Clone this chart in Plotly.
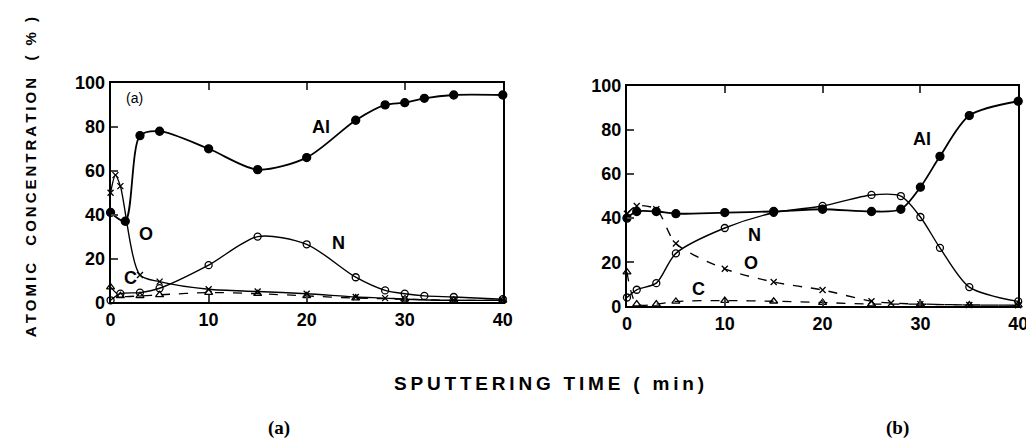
import plotly.graph_objects as go

# ---- Panel (a) data ----
a_al_t = [0, 1.5, 3, 5, 10, 15, 20, 25, 28, 30, 32, 35, 40]
a_al_v = [41, 37, 76, 78, 70, 60.5, 66, 83, 90, 91, 93, 94.5, 94.5]
a_o_t = [0, 0.5, 1, 3, 5, 10, 15, 20, 25, 28, 30, 35, 40]
a_o_v = [50, 58, 53, 12.5, 9.5, 6, 5, 4, 2.5, 2, 1.5, 1, 1]
a_n_t = [0, 1, 3, 5, 10, 15, 20, 25, 28, 30, 32, 35, 40]
a_n_v = [1, 4, 4.5, 6.5, 17, 30, 26.5, 11.5, 5.5, 4, 3, 2.5, 1.5]
a_c_t = [0, 1, 3, 5, 10, 15, 20, 25, 30, 35, 40]
a_c_v = [7, 3, 3, 3.5, 4.5, 4, 3, 2, 1.5, 1, 1]

# ---- Panel (b) data ----
b_al_t = [0, 1, 3, 5, 10, 15, 20, 25, 28, 30, 32, 35, 40]
b_al_v = [40, 43, 43, 42, 42.5, 43, 44, 43, 44, 54, 68, 86.5, 93]
b_o_t = [0, 1, 3, 5, 10, 15, 20, 25, 27, 30, 35, 40]
b_o_v = [42, 45.5, 44, 28.5, 17, 11, 7.4, 2.3, 1.5, 1, 0.6, 0.5]
b_n_t = [0, 1, 3, 5, 10, 15, 20, 25, 28, 30, 32, 35, 40]
b_n_v = [4, 7.5, 10.5, 24, 35.5, 42.4, 45.5, 50.5, 50, 40.5, 26.5, 8.7, 2.2]
b_c_t = [0, 1, 3, 5, 10, 15, 20, 25, 30, 35, 40]
b_c_v = [15.5, 1, 1, 2.2, 2.6, 2.3, 1.7, 1, 1, 0.6, 0.5]

x_ticks = [0, 10, 20, 30, 40]
y_ticks = [0, 20, 40, 60, 80, 100]

fig = go.Figure()

def add_series(t, v, xa, ya, symbol, size, dash, width=1.6):
    fig.add_trace(go.Scatter(
        x=t, y=v, xaxis=xa, yaxis=ya, mode="lines+markers",
        line=dict(color="black", width=width, shape="spline", smoothing=0.8, dash=dash),
        marker=dict(symbol=symbol, size=size, color="black",
                    line=dict(color="black", width=1.3)),
        cliponaxis=False, showlegend=False))

for xa, ya, d in [("x", "y", dict(al=(a_al_t, a_al_v), o=(a_o_t, a_o_v), n=(a_n_t, a_n_v), c=(a_c_t, a_c_v), odash="solid")),
                  ("x2", "y2", dict(al=(b_al_t, b_al_v), o=(b_o_t, b_o_v), n=(b_n_t, b_n_v), c=(b_c_t, b_c_v), odash="dash"))]:
    add_series(*d["c"], xa, ya, "triangle-up-open", 7, "dash", 1.3)
    add_series(*d["o"], xa, ya, "x-thin", 6, d["odash"], 1.4)
    add_series(*d["n"], xa, ya, "circle-open", 7, "solid", 1.4)
    add_series(*d["al"], xa, ya, "circle", 8, "solid", 1.8)

tickfont = dict(family="Liberation Sans", size=18, color="black", weight="bold")
common_x = dict(range=[0, 40], tickvals=x_ticks, ticks="inside", ticklen=7, tickwidth=2,
                showline=True, linewidth=2, linecolor="black", mirror="ticks",
                showgrid=False, zeroline=False, tickfont=tickfont)
common_y = dict(range=[0, 100], tickvals=y_ticks, ticks="inside", ticklen=7, tickwidth=2,
                showline=True, linewidth=2, linecolor="black", mirror=True,
                showgrid=False, zeroline=False, tickfont=tickfont)

fig.update_layout(
    width=1034, height=441, margin=dict(l=0, r=0, t=0, b=0),
    paper_bgcolor="white", plot_bgcolor="white",
    xaxis=dict(domain=[99/1034, 497/1034], anchor="y", **common_x),
    yaxis=dict(domain=[1-298/441, 1-68/441], anchor="x", **common_y),
    xaxis2=dict(domain=[623/1034, 1020/1034], anchor="y2", **common_x),
    yaxis2=dict(domain=[1-302/441, 1-71/441], anchor="x2", **common_y),
)

lab = dict(family="Liberation Sans", size=18, color="black", weight="bold")
anns = [
    ("x", "y", 21.5, 80, "Al"), ("x", "y", 3.6, 31, "O"), ("x", "y", 23.2, 27, "N"),
    ("x", "y", 2.0, 11, "C"), ("x2", "y2", 30.2, 76, "Al"), ("x2", "y2", 13, 32.5, "N"),
    ("x2", "y2", 12.7, 19.5, "O"), ("x2", "y2", 7.3, 8, "C"),
]
for xa, ya, x, y, s in anns:
    fig.add_annotation(x=x, y=y, xref=xa, yref=ya, text=s, showarrow=False, font=lab)

fig.add_annotation(x=2.4, y=93, xref="x", yref="y", text="(a)", showarrow=False,
                   font=dict(family="Liberation Sans", size=14, color="black"))

def spaced(s):
    return "\u2009".join(s)

fig.add_annotation(x=18/1034, y=1-167/441, xref="paper", yref="paper",
                   xanchor="center", yanchor="middle",
                   text=spaced("ATOMIC  CONCENTRATION  ( % )"), textangle=-90, showarrow=False,
                   font=dict(family="Liberation Sans", size=15, color="black", weight="bold"))
fig.add_annotation(x=544/1034, y=1-383/441, xref="paper", yref="paper",
                   xanchor="center", yanchor="middle",
                   text=spaced("SPUTTERING TIME ( min)"), showarrow=False,
                   font=dict(family="Liberation Sans", size=19, color="black", weight="bold"))
fig.add_annotation(x=270/1034, y=1-430/441, xref="paper", yref="paper",
                   xanchor="center", yanchor="middle",
                   text="<b>(a)</b>", showarrow=False,
                   font=dict(family="Liberation Serif", size=19, color="black"))
fig.add_annotation(x=898/1034, y=1-430/441, xref="paper", yref="paper",
                   xanchor="center", yanchor="middle",
                   text="<b>(b)</b>", showarrow=False,
                   font=dict(family="Liberation Serif", size=19, color="black"))

fig.write_html("out.html")
